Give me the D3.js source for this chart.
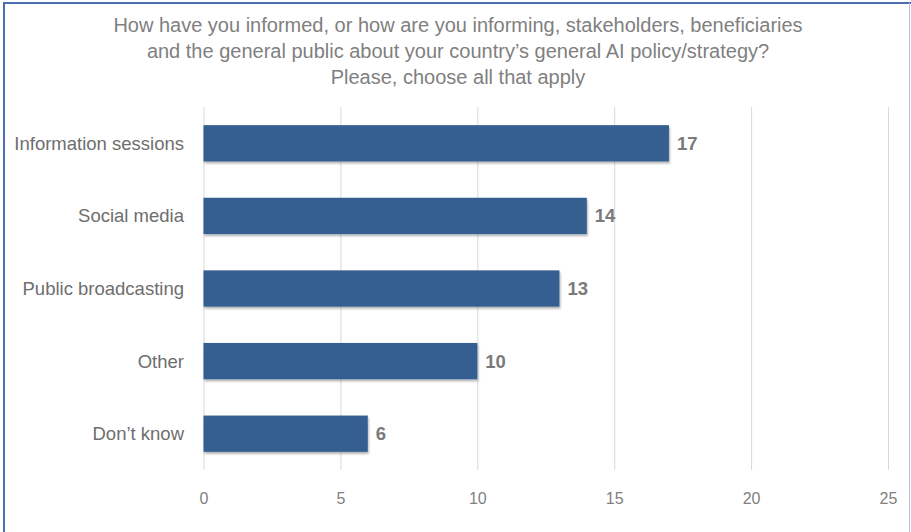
<!doctype html>
<html lang="en">
<head>
<meta charset="UTF-8">
<title>AI policy communication</title>
<style>
    body { margin: 0; background: #fff; font-family: "Liberation Sans", Arial, sans-serif; }
    svg { display: block; }
    .grid line { stroke: #d9d9d9; stroke-width: 1; }
    .grid path { display: none; }
    .xaxis path, .xaxis line { display: none; }
    .xaxis text { fill: #7f7f7f; font-size: 16px; font-family: "Liberation Sans", Arial, sans-serif; }
    .cat { fill: #6e6e6e; font-size: 18.5px; }
    .val { fill: #7a7a7a; font-size: 18.5px; font-weight: bold; }
    .title { fill: #808080; font-size: 20px; }
</style>
</head>
<body>
<svg width="911" height="532"></svg>
<script src="https://d3js.org/d3.v7.min.js"></script>
<script>
    // data
    const categories = ["Information sessions", "Social media", "Public broadcasting", "Other", "Don\u2019t know"];
    const counts = [17, 14, 13, 10, 6];
    const xTicks = [0, 5, 10, 15, 20, 25];
    const titleLines = [
        "How have you informed, or how are you informing, stakeholders, beneficiaries",
        "and the general public about your country\u2019s general AI policy/strategy?",
        "Please, choose all that apply"
    ];

    const svg = d3.select("svg");
    const W = 911, H = 532;

    // frame
    svg.append("line").attr("x1", 4).attr("x2", 4).attr("y1", 2).attr("y2", H)
        .attr("stroke", "#4a6eb0").attr("stroke-width", 2);
    svg.append("line").attr("x1", 3).attr("x2", W).attr("y1", 3).attr("y2", 3)
        .attr("stroke", "#4a6eb0").attr("stroke-width", 2);
    svg.append("line").attr("x1", 909.5).attr("x2", 909.5).attr("y1", 3).attr("y2", H)
        .attr("stroke", "#b4c7e7").attr("stroke-width", 1);

    // title
    svg.append("g").selectAll("text")
        .data(titleLines)
        .join("text")
        .attr("class", "title")
        .attr("x", 458)
        .attr("y", (d, i) => 32 + i * 26)
        .attr("text-anchor", "middle")
        .text(d => d);

    const x = d3.scaleLinear().domain([0, 25]).range([203.5, 888]);
    const y = d3.scaleBand().domain(categories).range([107, 470])
        .paddingInner(0.5).paddingOuter(0.25);

    // gridlines
    svg.append("g")
        .attr("class", "grid")
        .attr("transform", "translate(0,470)")
        .call(d3.axisBottom(x).tickValues(xTicks).tickSize(-363).tickFormat(""));

    // x labels
    svg.append("g")
        .attr("class", "xaxis")
        .attr("transform", "translate(0,487)")
        .call(d3.axisBottom(x).tickValues(xTicks).tickSize(0))
        .selectAll("text").attr("dy", "0.9em");

    const defs = svg.append("defs");
    const f = defs.append("filter").attr("id", "sh").attr("x", "-5%").attr("y", "-20%").attr("width", "110%").attr("height", "150%");
    f.append("feDropShadow").attr("dx", 1).attr("dy", 2).attr("stdDeviation", 1.2)
        .attr("flood-color", "#000").attr("flood-opacity", 0.3);

    const rows = categories.map((c, i) => ({ cat: c, v: counts[i] }));

    svg.append("g").selectAll("rect")
        .data(rows)
        .join("rect")
        .attr("x", x(0))
        .attr("y", d => y(d.cat))
        .attr("width", d => x(d.v) - x(0))
        .attr("height", y.bandwidth())
        .attr("fill", "#355f91")
        .attr("filter", "url(#sh)");

    svg.append("g").selectAll("text")
        .data(rows)
        .join("text")
        .attr("class", "val")
        .attr("x", d => x(d.v) + 8)
        .attr("y", d => y(d.cat) + y.bandwidth() / 2)
        .attr("dy", "0.35em")
        .text(d => d.v);

    svg.append("g").selectAll("text")
        .data(categories)
        .join("text")
        .attr("class", "cat")
        .attr("x", 184)
        .attr("y", d => y(d) + y.bandwidth() / 2)
        .attr("dy", "0.35em")
        .attr("text-anchor", "end")
        .text(d => d);
</script>
</body>
</html>
